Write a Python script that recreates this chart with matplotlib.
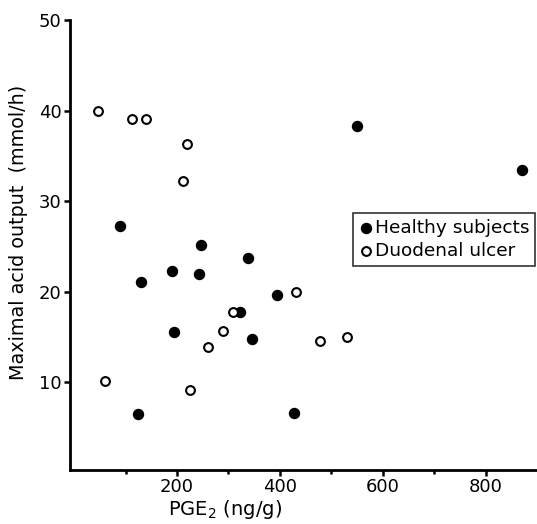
import matplotlib
matplotlib.use('Agg')
import matplotlib.pyplot as plt

# Healthy subjects (filled)
healthy_x = [89, 247, 338, 131, 191, 243, 322, 195, 346, 124, 395, 428, 550, 870]
healthy_y = [27.2, 25.1, 23.7, 21.05, 22.3, 22.0, 17.8, 15.5, 14.8, 6.5, 19.6, 6.65, 38.3, 33.4]

# Duodenal ulcer (open)
ulcer_x = [47, 112, 139, 219, 212, 309, 290, 261, 60, 225, 431, 478, 531]
ulcer_y = [39.9, 39.1, 39.1, 36.3, 32.2, 17.8, 15.7, 13.9, 10.1, 9.1, 20.0, 14.6, 15.0]

plt.rcParams['font.family'] = 'DejaVu Sans'

fig = plt.figure(figsize=(5.37, 5.24), dpi=100)
ax = fig.add_axes([70 / 537, 1 - 470 / 524, 467 / 537, 450 / 524])

ax.scatter(healthy_x, healthy_y, s=52, c='black', edgecolors='black',
           label='Healthy subjects', zorder=3)
ax.scatter(ulcer_x, ulcer_y, s=40, facecolors='white', edgecolors='black',
           linewidths=1.5, label='Duodenal ulcer', zorder=3)

ax.set_xlim(-8, 900)
ax.set_ylim(0.3, 50)
ax.set_xticks([200, 400, 600, 800])
ax.set_xticks([100, 300, 500, 700], minor=True)
ax.set_yticks([10, 20, 30, 40, 50])

for s in ['top', 'right']:
    ax.spines[s].set_visible(False)
ax.spines['left'].set_linewidth(2)
ax.spines['bottom'].set_linewidth(2)

ax.tick_params(axis='both', which='major', direction='out', length=4, width=1.8,
               labelsize=13, pad=2)
ax.tick_params(axis='x', which='minor', direction='out', length=3, width=1.8)

ax.set_xlabel('PGE$_2$ (ng/g)', fontsize=14)
ax.xaxis.set_label_coords(0.332, -0.062)
ax.set_ylabel('Maximal acid output  (mmol/h)', fontsize=13.8)
ax.yaxis.set_label_coords(-0.09, 0.529)

leg = ax.legend(loc='upper left', bbox_to_anchor=(0.606, 0.571), fontsize=13.3,
                frameon=True, fancybox=False, edgecolor='black',
                handletextpad=0.1, handlelength=0.8, borderpad=0.3,
                labelspacing=0.3, borderaxespad=0)
leg.get_frame().set_linewidth(1.2)

fig.savefig('out.png', dpi=100)
